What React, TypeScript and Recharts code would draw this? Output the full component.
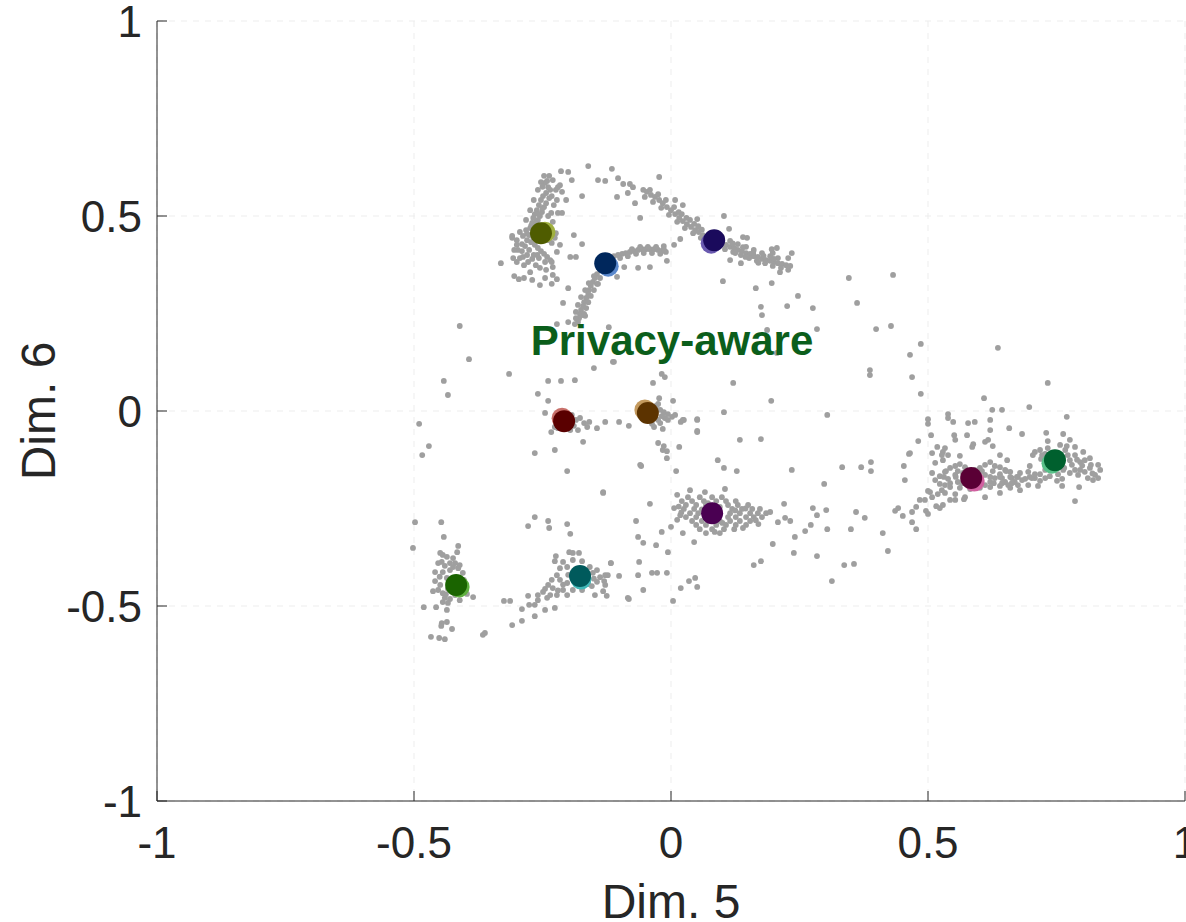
// Scatter of embedding dims 5/6: gray samples with coloured class centroids.

import { ScatterChart, Scatter, XAxis, YAxis, CartesianGrid, ReferenceDot } from 'recharts';

const TICKS = [-1, -0.5, 0, 0.5, 1];

// olive cluster (upper left) and its stragglers
const olivePts = [
  [-0.245, 0.585], [-0.239, 0.574], [-0.235, 0.567], [-0.243, 0.559], [-0.249, 0.551], [-0.237, 0.546],
  [-0.253, 0.541], [-0.243, 0.533], [-0.257, 0.528], [-0.247, 0.523], [-0.261, 0.515], [-0.251, 0.51],
  [-0.265, 0.505], [-0.255, 0.5], [-0.268, 0.495], [-0.259, 0.49], [-0.27, 0.482], [-0.263, 0.474],
  [-0.274, 0.469], [-0.267, 0.462], [-0.276, 0.451], [-0.268, 0.444], [-0.272, 0.433], [-0.265, 0.426],
  [-0.259, 0.418], [-0.253, 0.41], [-0.247, 0.403], [-0.241, 0.395], [-0.235, 0.387], [-0.232, 0.382],
  [-0.245, 0.382], [-0.257, 0.392], [-0.267, 0.4], [-0.276, 0.413], [-0.284, 0.423], [-0.28, 0.438],
  [-0.288, 0.449], [-0.294, 0.459], [-0.29, 0.428], [-0.3, 0.438], [-0.309, 0.444], [-0.298, 0.413],
  [-0.278, 0.382], [-0.263, 0.374], [-0.255, 0.367], [-0.243, 0.362], [-0.286, 0.374], [-0.3, 0.382],
  [-0.307, 0.392], [-0.239, 0.438], [-0.232, 0.431], [-0.226, 0.444], [-0.237, 0.469], [-0.23, 0.485],
  [-0.233, 0.508], [-0.228, 0.528], [-0.232, 0.551], [-0.224, 0.567], [-0.23, 0.592], [-0.237, 0.603],
  [-0.247, 0.603], [-0.253, 0.587], [-0.259, 0.567], [-0.267, 0.541], [-0.274, 0.515], [-0.282, 0.49],
  [-0.282, 0.464], [-0.305, 0.413], [-0.294, 0.392], [-0.274, 0.356], [-0.245, 0.341], [-0.255, 0.323],
  [-0.27, 0.336], [-0.286, 0.341], [-0.23, 0.349], [-0.23, 0.369], [-0.222, 0.408], [-0.216, 0.426],
  [-0.224, 0.456], [-0.22, 0.508], [-0.222, 0.541], [-0.216, 0.579], [-0.239, 0.5], [-0.22, 0.574],
  [-0.212, 0.562], [-0.331, 0.379], [-0.305, 0.346], [-0.296, 0.338], [-0.309, 0.449], [-0.3, 0.426],
  [-0.288, 0.395], [-0.25, 0.52], [-0.258, 0.505], [-0.262, 0.485], [-0.272, 0.475], [-0.28, 0.455],
  [-0.26, 0.4], [-0.27, 0.39], [-0.28, 0.4], [-0.29, 0.41], [-0.25, 0.575], [-0.241, 0.59],
];

// loose points around the top arcs
const topPts = [
  [-0.161, 0.628], [-0.115, 0.621], [-0.214, 0.615], [-0.2, 0.613], [-0.193, 0.592], [-0.142, 0.592],
  [-0.128, 0.59], [-0.103, 0.597], [-0.093, 0.582], [-0.08, 0.582], [-0.074, 0.574], [-0.105, 0.549],
  [-0.084, 0.559], [-0.07, 0.533], [-0.06, 0.495], [-0.023, 0.6], [-0.173, 0.551], [-0.204, 0.541],
  [-0.212, 0.508], [-0.189, 0.451], [-0.173, 0.428], [-0.196, 0.395], [-0.185, 0.395], [-0.222, 0.338],
  [-0.232, 0.326], [-0.2, 0.315], [-0.21, 0.277], [-0.222, 0.223], [-0.2, 0.228], [-0.173, 0.246],
  [-0.167, 0.244], [-0.121, 0.215], [-0.142, 0.326], [-0.105, 0.344], [-0.091, 0.369], [-0.064, 0.367],
  [-0.041, 0.369], [-0.008, 0.385], [-0.014, 0.423], [0.018, 0.441], [0.006, 0.426],
];

// blue arc
const bluePts = [
  [-0.119, 0.392], [-0.111, 0.397], [-0.103, 0.4], [-0.095, 0.403], [-0.088, 0.405], [-0.08, 0.408],
  [-0.072, 0.41], [-0.064, 0.413], [-0.056, 0.415], [-0.049, 0.415], [-0.041, 0.415], [-0.033, 0.415],
  [-0.025, 0.413], [-0.018, 0.41], [-0.01, 0.408], [-0.099, 0.392], [-0.084, 0.397], [-0.068, 0.403],
  [-0.053, 0.405], [-0.037, 0.405], [-0.021, 0.403], [-0.076, 0.415], [-0.06, 0.421], [-0.045, 0.421],
  [-0.029, 0.421], [-0.014, 0.415], [-0.138, 0.362], [-0.144, 0.351], [-0.148, 0.341], [-0.152, 0.331],
  [-0.156, 0.321], [-0.16, 0.31], [-0.161, 0.3], [-0.165, 0.29], [-0.169, 0.279], [-0.171, 0.269],
  [-0.175, 0.259], [-0.177, 0.249], [-0.179, 0.238], [-0.181, 0.228], [-0.13, 0.356], [-0.138, 0.341],
  [-0.144, 0.326], [-0.15, 0.31], [-0.156, 0.295], [-0.161, 0.279], [-0.165, 0.264], [-0.169, 0.249],
  [-0.185, 0.254], [-0.181, 0.272], [-0.175, 0.292], [-0.167, 0.31], [-0.16, 0.328], [-0.15, 0.346],
  [-0.185, 0.238], [-0.187, 0.223],
];

// navy arc and its neighbours
const navyPts = [
  [-0.054, 0.567], [-0.047, 0.562], [-0.039, 0.554], [-0.031, 0.549], [-0.023, 0.541], [-0.016, 0.533],
  [-0.008, 0.523], [0.0, 0.515], [0.008, 0.505], [0.016, 0.495], [0.023, 0.487], [0.031, 0.479],
  [0.039, 0.472], [0.047, 0.464], [0.054, 0.459], [0.062, 0.451], [0.07, 0.446], [0.078, 0.441],
  [0.091, 0.436], [0.099, 0.431], [0.107, 0.426], [0.115, 0.421], [0.123, 0.418], [0.13, 0.413],
  [0.138, 0.41], [0.146, 0.405], [0.154, 0.403], [0.161, 0.397], [0.169, 0.395], [0.177, 0.39],
  [0.185, 0.387], [0.193, 0.385], [0.2, 0.382], [0.208, 0.379], [0.216, 0.377], [0.224, 0.374],
  [0.232, 0.372], [-0.041, 0.567], [-0.025, 0.556], [-0.01, 0.541], [0.006, 0.523], [0.021, 0.505],
  [0.037, 0.49], [0.053, 0.474], [0.099, 0.446], [0.115, 0.436], [0.13, 0.428], [0.146, 0.421],
  [0.161, 0.413], [0.177, 0.405], [0.193, 0.397], [0.208, 0.392], [-0.051, 0.549], [-0.035, 0.536],
  [-0.019, 0.521], [-0.004, 0.503], [0.012, 0.485], [0.027, 0.469], [0.043, 0.456], [0.058, 0.444],
  [0.105, 0.415], [0.121, 0.408], [0.136, 0.4], [0.152, 0.392], [0.167, 0.385], [0.183, 0.379],
  [0.198, 0.372], [0.214, 0.367], [0.228, 0.362], [0.103, 0.5], [0.113, 0.467], [0.148, 0.444],
  [0.196, 0.415], [0.235, 0.405], [0.228, 0.392], [0.212, 0.356], [0.196, 0.328], [0.165, 0.315],
  [0.101, 0.333], [0.136, 0.379], [0.115, 0.387], [0.175, 0.267], [0.177, 0.246], [0.226, 0.269],
  [0.247, 0.295], [0.276, 0.264], [0.187, 0.208], [0.284, 0.21], [0.051, 0.492], [0.023, 0.528],
  [0.008, 0.541], [0.14, 0.446], [0.206, 0.418], [0.198, 0.405], [0.206, 0.149],
  [0.015, 0.51], [0.03, 0.495], [0.045, 0.48], [0.06, 0.465], [0.12, 0.43], [0.14, 0.42],
  [0.16, 0.405], [0.18, 0.398], [0.2, 0.39], [0.125, 0.405], [0.145, 0.395], [0.17, 0.38],
];

// sparse middle band
const midPts = [
  [0.346, 0.341], [0.432, 0.349], [0.362, 0.277], [0.399, 0.21], [0.428, 0.218], [0.486, 0.172],
  [0.465, 0.144], [0.469, 0.087], [0.486, 0.044], [0.387, 0.105], [0.387, 0.092], [0.636, 0.162],
  [0.609, 0.033], [0.625, 0.003], [0.644, 0.003], [0.697, 0.01], [0.733, 0.072], [0.77, -0.015],
  [0.683, -0.059], [0.658, -0.044], [0.121, 0.072], [0.195, 0.026], [0.304, -0.01], [0.103, -0.003],
  [0.004, 0.026], [-0.023, 0.033], [-0.018, 0.095], [-0.012, 0.087], [-0.035, 0.072], [-0.113, 0.126],
  [0.051, -0.023], [0.051, -0.051], [0.023, -0.023], [0.016, -0.092], [-0.008, -0.121], [-0.016, -0.1],
  [-0.025, -0.082], [-0.058, -0.141], [0.01, -0.154], [0.134, -0.074], [0.175, -0.072], [0.091, -0.126],
  [0.103, -0.146], [0.128, -0.154], [0.235, -0.151], [0.333, -0.144], [0.37, -0.144], [0.389, -0.131],
  [0.389, -0.154], [0.298, -0.187], [0.453, -0.141], [0.481, -0.077], [0.463, -0.11], [0.5, -0.021],
  [0.5, -0.033], [0.506, -0.062],
];

// dark red cluster and loose points on the left
const redPts = [
  [-0.177, -0.018], [-0.169, -0.031], [-0.163, -0.041], [-0.144, -0.044], [-0.128, -0.028], [-0.101, -0.028],
  [-0.082, -0.038], [-0.245, -0.005], [-0.233, -0.054], [-0.226, -0.041], [-0.171, -0.079], [-0.226, -0.1],
  [-0.265, -0.108], [-0.202, -0.154], [-0.132, -0.208], [-0.06, -0.138], [-0.259, 0.044], [-0.239, 0.026],
  [-0.239, 0.077], [-0.214, 0.077], [-0.187, 0.079], [-0.15, 0.11], [-0.111, 0.126], [-0.315, 0.095],
  [-0.393, 0.133], [-0.411, 0.218], [-0.442, 0.077], [-0.434, 0.041], [-0.49, -0.033], [-0.471, -0.09],
  [-0.484, -0.113], [-0.193, -0.01], [-0.185, -0.023], [-0.189, -0.038], [-0.181, -0.049], [-0.196, -0.049],
  [-0.159, -0.028], [-0.224, -0.018], [-0.22, -0.044],
];

// tan cluster
const tanPts = [
  [-0.029, 0.013], [-0.021, 0.003], [-0.014, -0.003], [-0.006, -0.008], [0.002, -0.015], [-0.012, -0.018],
  [-0.025, -0.023], [-0.037, -0.033], [-0.021, -0.031], [-0.006, -0.023], [0.008, -0.01], [-0.018, -0.013],
  [-0.033, -0.018], [-0.016, -0.046], [-0.033, -0.041], [0.019, -0.028], [0.025, -0.023], [0.051, -0.021],
  [0.051, -0.054], [-0.014, -0.09], [-0.008, -0.103], [-0.025, 0.018],
];

// purple cluster
const purplePts = [
  [0.033, -0.221], [0.056, -0.221], [0.08, -0.221], [0.099, -0.221],
  [0.021, -0.231], [0.041, -0.231], [0.064, -0.231], [0.088, -0.231], [0.107, -0.231], [0.126, -0.231],
  [0.029, -0.241], [0.049, -0.241], [0.068, -0.241], [0.111, -0.241], [0.13, -0.241], [0.15, -0.241],
  [0.025, -0.251], [0.045, -0.251], [0.119, -0.251], [0.138, -0.251], [0.158, -0.251], [0.173, -0.251],
  [0.037, -0.262], [0.053, -0.262], [0.115, -0.262], [0.134, -0.262], [0.154, -0.262], [0.169, -0.262], [0.185, -0.262],
  [0.029, -0.272], [0.049, -0.272], [0.111, -0.272], [0.126, -0.272], [0.146, -0.272], [0.161, -0.272], [0.177, -0.272],
  [0.041, -0.282], [0.06, -0.282], [0.095, -0.282], [0.115, -0.282], [0.134, -0.282], [0.154, -0.282],
  [0.049, -0.292], [0.068, -0.292], [0.088, -0.292], [0.107, -0.292], [0.126, -0.292], [0.146, -0.292],
  [0.056, -0.303], [0.08, -0.303], [0.103, -0.303], [0.123, -0.303], [0.068, -0.313], [0.095, -0.313],
  [0.072, -0.236], [0.095, -0.246], [0.06, -0.252], [0.1, -0.287], [0.165, -0.28], [0.14, -0.3],
  [0.17, -0.29], [0.02, -0.26], [0.015, -0.245], [0.085, -0.31], [0.125, -0.255], [0.145, -0.25],
  [0.012, -0.215], [-0.041, -0.238], [-0.068, -0.282], [-0.064, -0.323], [-0.054, -0.338], [-0.029, -0.344],
  [-0.006, -0.362], [-0.018, -0.31], [0.0, -0.297], [0.023, -0.313], [0.045, -0.336], [-0.117, -0.39],
  [-0.062, -0.387], [-0.064, -0.421], [-0.037, -0.415], [-0.027, -0.415], [-0.008, -0.415], [0.035, -0.436],
  [0.047, -0.428], [-0.132, -0.21], [0.006, -0.249], [0.018, -0.267], [0.012, -0.279], [0.037, -0.203],
  [0.066, -0.208], [0.105, -0.2], [0.193, -0.259], [0.222, -0.274], [0.208, -0.285], [0.232, -0.282],
  [0.22, -0.238], [0.241, -0.323], [0.239, -0.364], [0.261, -0.308], [0.272, -0.292], [0.284, -0.267],
  [0.276, -0.249], [0.302, -0.254], [0.284, -0.372], [0.304, -0.303], [0.198, -0.341], [0.175, -0.385],
  [0.161, -0.395], [0.313, -0.436], [0.337, -0.395], [0.356, -0.392], [0.35, -0.303], [0.36, -0.259],
  [0.377, -0.274], [0.436, -0.256], [0.451, -0.269], [0.469, -0.285], [0.477, -0.303], [0.412, -0.313],
  [0.422, -0.359], [0.004, -0.487], [0.019, -0.454], [0.051, -0.451], [-0.084, -0.479], [-0.054, -0.459],
];

// green cluster, lower left
const greenPts = [
  [-0.498, -0.285], [-0.447, -0.285], [-0.442, -0.323], [-0.502, -0.351], [-0.414, -0.346], [-0.416, -0.362],
  [-0.449, -0.364], [-0.444, -0.369], [-0.436, -0.374], [-0.424, -0.377], [-0.446, -0.387], [-0.43, -0.39],
  [-0.42, -0.39], [-0.411, -0.395], [-0.459, -0.413], [-0.444, -0.413], [-0.43, -0.408], [-0.414, -0.403],
  [-0.405, -0.415], [-0.459, -0.436], [-0.449, -0.446], [-0.463, -0.462], [-0.453, -0.459], [-0.401, -0.462],
  [-0.397, -0.469], [-0.385, -0.477], [-0.444, -0.467], [-0.44, -0.479], [-0.43, -0.482], [-0.42, -0.472],
  [-0.444, -0.49], [-0.434, -0.492], [-0.481, -0.503], [-0.457, -0.503], [-0.436, -0.51], [-0.446, -0.544],
  [-0.447, -0.551], [-0.436, -0.541], [-0.426, -0.559], [-0.467, -0.579], [-0.451, -0.582], [-0.44, -0.585],
  [-0.362, -0.569], [-0.366, -0.574], [-0.436, -0.428], [-0.426, -0.433], [-0.403, -0.433], [-0.434, -0.456],
  [-0.411, -0.485], [-0.453, -0.39], [-0.44, -0.397], [-0.424, -0.4], [-0.45, -0.425], [-0.438, -0.47],
];

// teal cluster
const tealPts = [
  [-0.224, -0.372], [-0.226, -0.385], [-0.21, -0.387], [-0.198, -0.362], [-0.191, -0.364], [-0.179, -0.364],
  [-0.191, -0.382], [-0.173, -0.385], [-0.216, -0.403], [-0.202, -0.4], [-0.222, -0.421], [-0.232, -0.433],
  [-0.216, -0.433], [-0.202, -0.441], [-0.239, -0.446], [-0.23, -0.454], [-0.245, -0.456], [-0.21, -0.459],
  [-0.191, -0.459], [-0.173, -0.459], [-0.154, -0.449], [-0.144, -0.438], [-0.138, -0.426], [-0.128, -0.421],
  [-0.123, -0.421], [-0.152, -0.415], [-0.144, -0.408], [-0.158, -0.4], [-0.117, -0.39], [-0.101, -0.423],
  [-0.13, -0.436], [-0.128, -0.446], [-0.132, -0.462], [-0.148, -0.472], [-0.125, -0.474], [-0.259, -0.472],
  [-0.241, -0.479], [-0.222, -0.472], [-0.202, -0.472], [-0.226, -0.505], [-0.245, -0.51], [-0.265, -0.497],
  [-0.276, -0.497], [-0.278, -0.474], [-0.259, -0.485], [-0.29, -0.508], [-0.265, -0.526], [-0.29, -0.538],
  [-0.309, -0.549], [-0.325, -0.487], [-0.313, -0.487], [-0.082, -0.482], [-0.278, -0.295], [-0.265, -0.272],
  [-0.239, -0.282], [-0.237, -0.3], [-0.202, -0.29], [-0.196, -0.315], [-0.249, -0.464], [-0.235, -0.472],
  [-0.165, -0.428], [-0.161, -0.444], [-0.2, -0.42], [-0.21, -0.445], [-0.22, -0.46], [-0.15, -0.43],
];

// maroon cluster, right
const maroonPts = [
  [0.514, -0.177], [0.523, -0.167], [0.533, -0.156], [0.543, -0.146], [0.553, -0.141], [0.562, -0.136],
  [0.572, -0.144], [0.601, -0.146], [0.611, -0.138], [0.621, -0.131], [0.63, -0.141], [0.64, -0.144],
  [0.65, -0.151], [0.66, -0.156], [0.663, -0.172], [0.669, -0.182], [0.656, -0.19], [0.64, -0.192],
  [0.621, -0.195], [0.601, -0.197], [0.582, -0.2], [0.562, -0.197], [0.543, -0.195], [0.533, -0.19],
  [0.523, -0.187], [0.539, -0.174], [0.553, -0.164], [0.558, -0.182], [0.611, -0.164], [0.63, -0.172],
  [0.644, -0.172], [0.621, -0.182], [0.65, -0.182], [0.568, -0.159], [0.591, -0.151], [0.527, -0.203],
  [0.519, -0.213], [0.508, -0.221], [0.494, -0.228], [0.504, -0.208], [0.533, -0.21], [0.553, -0.213],
  [0.679, -0.159], [0.683, -0.177], [0.675, -0.19], [0.626, -0.154], [0.64, -0.162], [0.689, -0.174],
  [0.698, -0.169], [0.708, -0.172], [0.718, -0.179], [0.728, -0.172], [0.679, -0.203], [0.695, -0.19],
  [0.714, -0.192], [0.465, -0.108], [0.455, -0.177], [0.508, -0.159], [0.5, -0.205], [0.514, -0.133],
  [0.533, -0.095], [0.539, -0.113], [0.553, -0.074], [0.576, -0.062], [0.586, -0.092], [0.611, -0.079],
  [0.621, -0.023], [0.64, -0.113], [0.654, -0.126], [0.529, -0.105], [0.562, -0.115], [0.484, -0.228],
  [0.477, -0.246], [0.469, -0.259], [0.442, -0.249], [0.529, -0.241], [0.553, -0.228], [0.572, -0.221],
  [0.611, -0.221], [0.64, -0.21], [0.543, -0.228], [0.523, -0.249], [0.496, -0.256], [0.539, -0.008],
  [0.539, -0.018], [0.549, -0.028], [0.578, -0.031], [0.591, -0.028], [0.551, -0.062], [0.621, -0.049],
  [0.617, -0.074], [0.626, -0.09], [0.588, -0.085], [0.518, -0.092], [0.508, -0.108], [0.527, -0.113],
  [0.529, -0.126], [0.5, -0.264], [0.516, -0.244], [0.57, -0.226], [0.786, -0.231], [0.794, -0.195],
  [0.572, -0.177], [0.591, -0.182], [0.611, -0.19], [0.582, -0.164], [0.601, -0.172],
  [0.535, -0.154], [0.558, -0.154], [0.582, -0.154], [0.605, -0.154], [0.652, -0.154],
  [0.531, -0.169], [0.554, -0.169], [0.621, -0.169], [0.64, -0.169], [0.66, -0.169], [0.675, -0.169],
  [0.543, -0.185], [0.566, -0.185], [0.628, -0.185], [0.644, -0.185], [0.663, -0.185],
];

// green cluster, far right
const tealGreenPts = [
  [0.708, -0.105], [0.718, -0.1], [0.728, -0.11], [0.733, -0.095], [0.757, -0.087], [0.767, -0.1],
  [0.772, -0.113], [0.776, -0.126], [0.78, -0.138], [0.786, -0.151], [0.796, -0.151], [0.805, -0.156],
  [0.815, -0.146], [0.825, -0.164], [0.831, -0.172], [0.821, -0.177], [0.811, -0.172], [0.792, -0.164],
  [0.776, -0.159], [0.763, -0.151], [0.753, -0.162], [0.728, -0.151], [0.718, -0.162], [0.737, -0.167],
  [0.708, -0.162], [0.702, -0.172], [0.786, -0.113], [0.796, -0.131], [0.805, -0.126], [0.802, -0.105],
  [0.815, -0.121], [0.831, -0.138], [0.835, -0.151], [0.817, -0.138], [0.776, -0.074], [0.763, -0.059],
  [0.733, -0.077], [0.73, -0.056], [0.786, -0.092], [0.722, -0.113], [0.761, -0.192], [0.695, -0.156],
  [0.698, -0.141], [0.704, -0.113], [0.72, -0.123], [0.765, -0.146], [0.761, -0.174], [0.751, -0.179],
  [0.673, -0.169], [0.66, -0.197], [0.79, -0.125], [0.8, -0.14], [0.82, -0.16], [0.77, -0.09],
];

// class centroids
const CENTROIDS = [
  { x: -0.253, y: 0.456 },
  { x: -0.128, y: 0.379 },
  { x: 0.084, y: 0.438 },
  { x: -0.208, y: -0.026 },
  { x: -0.045, y: -0.005 },
  { x: 0.08, y: -0.262 },
  { x: -0.177, y: -0.423 },
  { x: -0.418, y: -0.446 },
  { x: 0.584, y: -0.172 },
  { x: 0.747, y: -0.126 },
];

// [dark, light, light dx, light dy]
const CENTROID_STYLE: [string, string, number, number][] = [
  ['#4f5c00', '#a0b040', 4, -1],
  ['#00275c', '#5a88cc', 3, 3],
  ['#1a0a5c', '#6a5ab0', -3, 3],
  ['#5a0000', '#c8706a', -2, -3],
  ['#5c3300', '#c49a5e', -3, -3],
  ['#4a0052', '#4a0052', 0, 0],
  ['#005a5c', '#40b8b8', 1, 3],
  ['#1a6400', '#60b040', 3, 2],
  ['#5a0035', '#d060a0', 3, 3],
  ['#00602e', '#58c088', -3, 3],
];

const GRAY = [
  ...olivePts, ...topPts, ...bluePts, ...navyPts, ...midPts, ...redPts, ...tanPts,
  ...purplePts, ...greenPts, ...tealPts, ...maroonPts, ...tealGreenPts,
].map(([x, y]) => ({ x, y }));

const centroidData = CENTROIDS.map((c, i) => ({
  ...c,
  dark: CENTROID_STYLE[i][0],
  light: CENTROID_STYLE[i][1],
  dx: CENTROID_STYLE[i][2],
  dy: CENTROID_STYLE[i][3],
}));

const FONT = '"Liberation Sans", Arial, Helvetica, sans-serif';
const INK = '#262626';

const GrayDot = (props: any) => <circle cx={props.cx} cy={props.cy} r={2.9} fill="#9f9f9f" />;

const CentroidDot = (props: any) => {
  const p = props.payload;
  return (
    <g>
      <circle cx={props.cx + p.dx} cy={props.cy + p.dy} r={10.5} fill={p.light} />
      <circle cx={props.cx} cy={props.cy} r={11} fill={p.dark} />
    </g>
  );
};

export default function App() {
  return (
    <div style={{ position: 'absolute', left: 0, top: 0, width: 1186, height: 922, background: '#fff' }}>
      <ScatterChart width={1186} height={922} margin={{ top: 21, right: 1, bottom: 0, left: 0 }} style={{ fontFamily: FONT }}>
        <CartesianGrid stroke="#ededed" strokeDasharray="6 6" />
        <XAxis
          type="number"
          dataKey="x"
          domain={[-1, 1]}
          ticks={TICKS}
          interval={0}
          allowDataOverflow
          height={121}
          tickSize={-10}
          tickMargin={36}
          axisLine={{ stroke: INK }}
          tickLine={{ stroke: INK }}
          tick={{ fill: INK, fontSize: 44, fontFamily: FONT }}
          label={{ value: 'Dim. 5', position: 'insideBottom', offset: 4, fill: INK, fontSize: 48, fontFamily: FONT }}
        />
        <XAxis
          xAxisId="top"
          orientation="top"
          type="number"
          dataKey="x"
          domain={[-1, 1]}
          ticks={TICKS}
          interval={0}
          height={0}
          tickSize={-10}
          tickFormatter={() => ''}
          axisLine={{ stroke: INK }}
          tickLine={{ stroke: INK }}
        />
        <YAxis
          type="number"
          dataKey="y"
          domain={[-1, 1]}
          ticks={TICKS}
          interval={0}
          allowDataOverflow
          width={157}
          tickSize={-10}
          tickMargin={25}
          axisLine={{ stroke: INK }}
          tickLine={{ stroke: INK }}
          tick={{ fill: INK, fontSize: 44, fontFamily: FONT }}
          label={{
            value: 'Dim. 6',
            angle: -90,
            position: 'insideLeft',
            offset: 38,
            fill: INK,
            fontSize: 48,
            fontFamily: FONT,
            style: { textAnchor: 'middle' },
          }}
        />
        <YAxis
          yAxisId="right"
          orientation="right"
          type="number"
          dataKey="y"
          domain={[-1, 1]}
          ticks={TICKS}
          interval={0}
          width={0}
          tickSize={-10}
          tickFormatter={() => ''}
          axisLine={{ stroke: INK }}
          tickLine={{ stroke: INK }}
        />
        <Scatter data={GRAY} shape={GrayDot} isAnimationActive={false} />
        <Scatter data={centroidData} shape={CentroidDot} isAnimationActive={false} />
        <ReferenceDot
          x={0.002}
          y={0.182}
          r={0}
          stroke="none"
          fill="none"
          label={{
            value: 'Privacy-aware',
            position: 'center',
            fill: '#0b5e1b',
            fontSize: 42,
            fontWeight: 'bold',
            fontFamily: FONT,
          }}
        />
      </ScatterChart>
    </div>
  );
}
